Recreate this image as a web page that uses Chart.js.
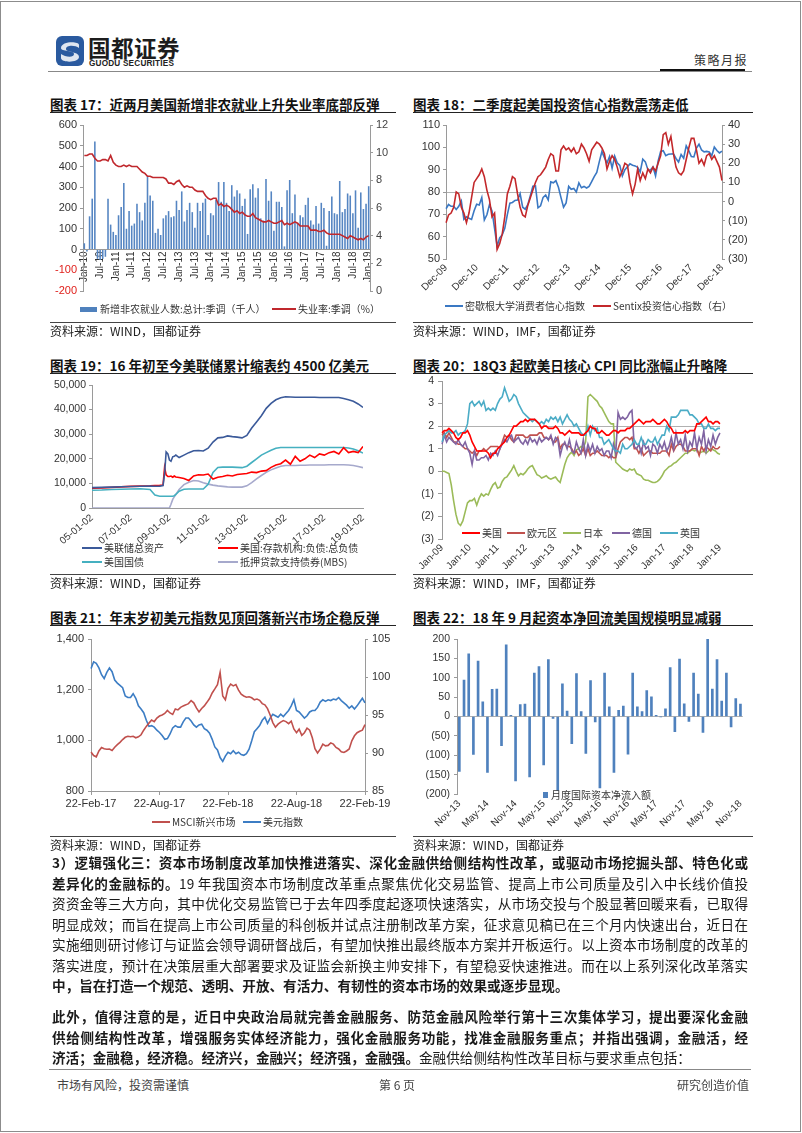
<!DOCTYPE html>
<html lang="zh-CN">
<head>
<meta charset="utf-8">
<title>策略月报 第6页</title>
<script src="https://cdn.jsdelivr.net/npm/chart.js@4.4.1/dist/chart.umd.min.js"></script>
<style>
  html, body { margin: 0; padding: 0; background: #fff; }
  #page { position: relative; width: 802px; height: 1133px; overflow: hidden;
          font-family: "Noto Sans CJK SC", "Noto Sans", sans-serif; color: #222; }
  .abs { position: absolute; white-space: nowrap; }
  .frame { position: absolute; left: 0; top: 1px; width: 801px; height: 1131px; box-sizing: border-box; border: 1px solid #8c8c8c; }
  .hline { position: absolute; height: 0; }
  .title { font-size: 13.5px; font-weight: 700; line-height: 16px; color: #111; }
  .src { font-size: 12px; line-height: 14px; color: #222; }
  .lg { font-size: 10px; line-height: 12px; color: #333; display: flex; align-items: center; }
  .mk { display: inline-block; width: 18px; height: 2px; margin-right: 2px; }
  .bx { display: inline-block; width: 17px; height: 5px; margin-right: 3px; }
  canvas { position: absolute; }
  .para { position: absolute; left: 52px; width: 696px; font-size: 13.6px; line-height: 20.5px; color: #1a1a1a; }
  .para div { text-align: justify; text-align-last: justify; height: 20.5px; overflow: hidden; }
  .para div.last { text-align-last: left; }
  .foot { font-size: 12px; line-height: 14px; color: #444; }
</style>
</head>
<body>
<div id="page">
  <div class="frame"></div>

  <!-- header -->
  <svg class="abs" style="left:56px;top:36px" width="28" height="30" viewBox="0 0 28 30">
    <rect x="0" y="0" width="28" height="30" rx="6" fill="#2a5a9f"/>
    <path d="M5 12 C5 5, 23 5, 23 9 L23 12 C19 9, 10 9, 10 13 C10 17, 23 15, 23 21 C23 27, 5 27, 5 22 L5 18 C9 21, 18 22, 18 18 C18 14, 5 16, 5 12 Z" fill="#dfe6f0"/>
  </svg>
  <div class="abs" style="left:88px;top:35px;font-size:22.5px;line-height:24px;font-weight:700;color:#1d1d1d;letter-spacing:0.5px">国都证券</div>
  <div class="abs" style="left:89px;top:59px;font-family:'Liberation Sans',Arial,sans-serif;font-size:8.2px;line-height:10px;font-weight:700;color:#222;letter-spacing:0.2px">GUODU SECURITIES</div>
  <div class="abs" style="left:694px;top:53px;font-size:12px;line-height:14px;color:#333;letter-spacing:1.5px">策略月报</div>
  <div class="hline" style="left:48px;top:71px;width:704px;border-top:1px solid #888"></div>
  <div class="abs" style="left:660px;top:69px;width:85px;height:2px;background:#111"></div>

  <!-- row 1 -->
  <div class="abs title" style="left:50px;top:96px">图表 17：近两月美国新增非农就业上升失业率底部反弹</div>
  <div class="abs title" style="left:413px;top:96px">图表 18：二季度起美国投资信心指数震荡走低</div>
  <div class="hline" style="left:50px;top:112px;width:346px;border-top:1.5px solid #222"></div>
  <div class="hline" style="left:413px;top:112px;width:340px;border-top:1.5px solid #222"></div>

  <canvas id="c17" width="346" height="190" style="left:50px;top:113px"></canvas>
  <canvas id="c18" width="340" height="189" style="left:413px;top:113px"></canvas>

  <div class="abs lg" style="left:80px;top:303px"><span class="bx" style="background:#4f81bd"></span>新增非农就业人数:总计:季调（千人）</div>
  <div class="abs lg" style="left:272px;top:303px"><span class="mk" style="width:24px;background:#c0282d"></span>失业率:季调（%）</div>
  <div class="abs lg" style="left:445px;top:300px"><span class="mk" style="background:#3a78c3"></span>密歇根大学消费者信心指数</div>
  <div class="abs lg" style="left:593px;top:300px"><span class="mk" style="background:#c3282b"></span>Sentix投资信心指数（右）</div>

  <div class="hline" style="left:50px;top:322px;width:346px;border-top:1px solid #444"></div>
  <div class="hline" style="left:413px;top:322px;width:340px;border-top:1px solid #444"></div>
  <div class="abs src" style="left:50px;top:324px">资料来源：WIND，国都证券</div>
  <div class="abs src" style="left:413px;top:324px">资料来源：WIND，IMF，国都证券</div>

  <!-- row 2 -->
  <div class="abs title" style="left:50px;top:357px">图表 19：16 年初至今美联储累计缩表约 4500 亿美元</div>
  <div class="abs title" style="left:413px;top:357px">图表 20：18Q3 起欧美日核心 CPI 同比涨幅止升略降</div>
  <div class="hline" style="left:50px;top:373px;width:346px;border-top:1.5px solid #222"></div>
  <div class="hline" style="left:413px;top:373px;width:340px;border-top:1.5px solid #222"></div>

  <canvas id="c19" width="346" height="179" style="left:50px;top:373px"></canvas>
  <canvas id="c20" width="340" height="204" style="left:413px;top:369px"></canvas>

  <div class="abs lg" style="left:82px;top:542px"><span class="mk" style="width:20px;background:#3b5a9a"></span>美联储总资产</div>
  <div class="abs lg" style="left:218px;top:542px"><span class="mk" style="width:20px;background:#ff0000"></span>美国:存款机构:负债:总负债</div>
  <div class="abs lg" style="left:82px;top:556px"><span class="mk" style="width:20px;background:#45b0c0"></span>美国国债</div>
  <div class="abs lg" style="left:218px;top:556px"><span class="mk" style="width:20px;background:#a6a9cc"></span>抵押贷款支持债券(MBS)</div>

  <div class="abs lg" style="left:462px;top:527px"><span class="mk" style="background:#ff0000"></span>美国</div>
  <div class="abs lg" style="left:507px;top:527px"><span class="mk" style="background:#c0504d"></span>欧元区</div>
  <div class="abs lg" style="left:563px;top:527px"><span class="mk" style="background:#9bbb59"></span>日本</div>
  <div class="abs lg" style="left:612px;top:527px"><span class="mk" style="background:#8064a2"></span>德国</div>
  <div class="abs lg" style="left:660px;top:527px"><span class="mk" style="background:#4bacc6"></span>英国</div>

  <div class="hline" style="left:50px;top:574px;width:346px;border-top:1px solid #444"></div>
  <div class="hline" style="left:413px;top:574px;width:340px;border-top:1px solid #444"></div>
  <div class="abs src" style="left:50px;top:576px">资料来源：WIND，国都证券</div>
  <div class="abs src" style="left:413px;top:576px">资料来源：WIND，IMF，国都证券</div>

  <!-- row 3 -->
  <div class="abs title" style="left:50px;top:609px">图表 21：年末岁初美元指数见顶回落新兴市场企稳反弹</div>
  <div class="abs title" style="left:413px;top:609px">图表 22：18 年 9 月起资本净回流美国规模明显减弱</div>
  <div class="hline" style="left:50px;top:625px;width:346px;border-top:1.5px solid #222"></div>
  <div class="hline" style="left:413px;top:625px;width:340px;border-top:1.5px solid #222"></div>

  <canvas id="c21" width="346" height="190" style="left:50px;top:627px"></canvas>
  <canvas id="c22" width="340" height="205" style="left:413px;top:627px"></canvas>

  <div class="abs lg" style="left:152px;top:816px"><span class="mk" style="background:#c0504d"></span>MSCI新兴市场</div>
  <div class="abs lg" style="left:243px;top:816px"><span class="mk" style="background:#3c7dc4"></span>美元指数</div>
  <div class="abs lg" style="left:543px;top:789px"><span class="bx" style="width:5px;height:6px;background:#4f81bd"></span>月度国际资本净流入额</div>

  <div class="hline" style="left:50px;top:836px;width:346px;border-top:1px solid #444"></div>
  <div class="hline" style="left:413px;top:836px;width:340px;border-top:1px solid #444"></div>
  <div class="abs src" style="left:50px;top:838px">资料来源：WIND，国都证券</div>
  <div class="abs src" style="left:413px;top:838px">资料来源：WIND，国都证券</div>

  <!-- text -->
  <div class="para" style="top:852px">
    <div><b>3）逻辑强化三：资本市场制度改革加快推进落实、深化金融供给侧结构性改革，或驱动市场挖掘头部、特色化或</b></div>
    <div><b>差异化的金融标的。</b>19 年我国资本市场制度改革重点聚焦优化交易监管、提高上市公司质量及引入中长线价值投</div>
    <div>资资金等三大方向，其中优化交易监管已于去年四季度起逐项快速落实，从市场交投与个股显著回暖来看，已取得</div>
    <div>明显成效；而旨在提高上市公司质量的科创板并试点注册制改革方案，征求意见稿已在三个月内快速出台，近日在</div>
    <div>实施细则研讨修订与证监会领导调研督战后，有望加快推出最终版本方案并开板运行。以上资本市场制度的改革的</div>
    <div>落实进度，预计在决策层重大部署要求及证监会新换主帅安排下，有望稳妥快速推进。而在以上系列深化改革落实</div>
    <div class="last"><b>中，旨在打造一个规范、透明、开放、有活力、有韧性的资本市场的效果或逐步显现。</b></div>
  </div>
  <div class="para" style="top:1006px">
    <div><b>此外，值得注意的是，近日中央政治局就完善金融服务、防范金融风险举行第十三次集体学习，提出要深化金融</b></div>
    <div><b>供给侧结构性改革，增强服务实体经济能力，强化金融服务功能，找准金融服务重点；并指出强调，金融活，经</b></div>
    <div class="last"><b>济活；金融稳，经济稳。经济兴，金融兴；经济强，金融强。</b>金融供给侧结构性改革目标与要求重点包括：</div>
  </div>

  <!-- footer -->
  <div class="hline" style="left:49px;top:1069px;width:702px;border-top:1px solid #888"></div>
  <div class="abs foot" style="left:57px;top:1078px">市场有风险，投资需谨慎</div>
  <div class="abs foot" style="left:379px;top:1078px">第 6 页</div>
  <div class="abs foot" style="left:677px;top:1078px">研究创造价值</div>
</div>

<script>
// ---- chart 17: non-farm payrolls (k) and unemployment rate (%), Jan-10 .. Jan-19
const payroll17 = [
  30, -10, 160, 245, 520, -45, -50, -45, -35, 245, 120, 85,
  70, 165, 205, 320, 100, 185, 115, 125, 220, 180, 140, 225,
  355, 260, 235, 80, 100, 70, 150, 165, 185, 155, 160, 235,
  190, 280, 135, 190, 225, 180, 105, 225, 185, 225, 245, 70,
  175, 165, 240, 325, 230, 325, 225, 185, 310, 255, 285, 270,
  210, 245, 75, 290, 315, 250, 295, 150, 140, 340, 235, 280,
  90, 230, 230, 205, 15, 285, 335, 175, 265, 125, 165, 155,
  215, 250, 140, 120, 210, 125, 225, 200, 18, 185, 255, 175,
  170, 330, 180, 195, 270, 260, 175, 285, 105, 275, 195, 220,
  305];
const unemp17 = [
  9.8, 9.8, 9.9, 9.9, 9.6, 9.4, 9.4, 9.5, 9.5, 9.4, 9.8, 9.3,
  9.1, 9.0, 9.0, 9.1, 9.0, 9.1, 9.0, 9.0, 9.0, 8.8, 8.6, 8.5,
  8.3, 8.3, 8.2, 8.2, 8.2, 8.2, 8.2, 8.1, 7.8, 7.8, 7.7, 7.9,
  8.0, 7.7, 7.5, 7.6, 7.5, 7.5, 7.3, 7.2, 7.2, 7.2, 6.9, 6.7,
  6.6, 6.7, 6.7, 6.2, 6.3, 6.1, 6.2, 6.1, 5.9, 5.7, 5.8, 5.6,
  5.7, 5.5, 5.4, 5.4, 5.6, 5.3, 5.2, 5.1, 5.0, 5.0, 5.1, 5.0,
  4.9, 4.9, 5.0, 5.1, 4.8, 4.9, 4.8, 4.9, 5.0, 4.9, 4.7, 4.7,
  4.7, 4.7, 4.4, 4.4, 4.4, 4.3, 4.3, 4.4, 4.2, 4.1, 4.1, 4.1,
  4.1, 4.1, 4.0, 3.9, 3.8, 4.0, 3.9, 3.8, 3.7, 3.8, 3.7, 3.9,
  4.0];

// ---- chart 18: Michigan sentiment (left) and Sentix (right), Dec-09 .. Dec-18
const michigan18 = [
  72.5,
  74.4, 73.6, 73.6, 72.2, 73.6, 76.0, 67.8, 68.9, 68.2, 67.7, 71.6, 74.5,
  74.2, 77.5, 67.5, 69.8, 74.3, 71.5, 63.7, 55.7, 59.5, 60.8, 63.7, 69.9,
  75.0, 75.3, 76.2, 76.4, 79.3, 73.2, 72.3, 74.3, 78.3, 82.6, 82.7, 72.9,
  73.8, 77.6, 78.6, 76.4, 84.5, 84.1, 85.1, 82.1, 77.5, 73.2, 75.1, 82.5,
  81.2, 81.6, 80.0, 84.1, 81.9, 82.5, 81.8, 82.5, 84.6, 86.9, 88.8, 93.6,
  98.1, 95.4, 93.0, 95.9, 90.7, 96.1, 93.1, 91.9, 87.2, 90.0, 91.3, 92.6,
  92.0, 91.7, 91.0, 89.0, 94.7, 93.5, 90.0, 89.8, 91.2, 87.2, 93.8, 98.2,
  98.5, 96.3, 96.9, 97.0, 97.1, 95.0, 93.4, 96.8, 95.1, 100.7, 98.5, 95.9,
  95.7, 99.7, 101.4, 98.8, 98.0, 98.2, 97.9, 96.2, 100.1, 98.6, 97.5, 98.3];
const sentix18 = [
  -11,
  -7, -6, -3, 5, 4, -3, -6, -11, -6, 2, 10, 12,
  14, 17, 13, 6, 1, -8, -6, -25, -22, -17, -8, 4,
  8, 13, 12, 4, -3, -7, -8, -2, 2, 6, 10, 13,
  14, 16, 18, 22, 25, 24, 16, 16, 27, 29, 27, 28,
  26, 28, 25, 26, 30, 28, 25, 21, 27, 29, 31, 30,
  28, 25, 17, 21, 24, 22, 18, 13, 16, 20, 19, 10,
  4, 9, 17, 11, 15, 12, 17, 15, 18, 16, 20, 24,
  35, 36, 30, 34, 25, 18, 15, 14, 16, 22, 28, 33,
  33, 27, 20, 22, 19, 24, 25, 22, 24, 21, 18, 11];

// ---- chart 19: Fed balance sheet items (100 mn USD), sampled at decimal years
const dates19 = [2005.0, 2005.5, 2006.0, 2006.5, 2007.0, 2007.5, 2008.0, 2008.25, 2008.5, 2008.67,
  2008.75, 2008.83, 2008.92, 2009.0, 2009.08, 2009.17, 2009.25, 2009.33, 2009.5, 2009.75,
  2010.0, 2010.25, 2010.5, 2010.75, 2011.0, 2011.25, 2011.5, 2011.75, 2012.0, 2012.25,
  2012.5, 2012.75, 2013.0, 2013.25, 2013.5, 2013.75, 2014.0, 2014.25, 2014.5, 2014.75,
  2015.0, 2015.25, 2015.5, 2015.75, 2016.0, 2016.25, 2016.5, 2016.75, 2017.0, 2017.25,
  2017.5, 2017.75, 2018.0, 2018.25, 2018.5, 2018.75, 2019.0];
const fed19 = [8300, 8400, 8500, 8650, 8750, 8850, 8950, 8850, 8900, 9100,
  14000, 22800, 22000, 19500, 19000, 20800, 21000, 21500, 20500, 21500,
  22500, 23300, 23400, 23200, 24300, 26800, 28500, 28700, 29300, 29000,
  28800, 28500, 29500, 32500, 35000, 37500, 40500, 42500, 44000, 44800,
  45200, 45100, 45000, 45000, 45000, 45000, 45000, 44900, 44900, 44900,
  44900, 44900, 44500, 44000, 43400, 42300, 40900];
const dep19 = [8000, 8200, 8400, 8600, 8800, 8900, 9000, 9100, 9200, 9300,
  16500, 13500, 12800, 12800, 13000, 12500, 13000, 12600, 12400, 12000,
  11200, 13000, 13500, 13400, 13800, 11800, 12500, 12800, 13300, 13000,
  13600, 13800, 14000, 14600, 14400, 15000, 15200, 16500, 17500, 18000,
  19500, 17800, 21000, 19000, 20000, 21500, 20500, 22000, 21500, 22500,
  23000, 22000, 24500, 22500, 23000, 22500, 25000];
const ust19 = [7200, 7300, 7500, 7600, 7700, 7800, 7500, 5300, 4800, 4800,
  4800, 4800, 4800, 4800, 4800, 4800, 5000, 5500, 6800, 7600,
  7700, 7700, 7700, 7700, 9600, 14500, 16500, 16600, 16600, 16600,
  16500, 16400, 17000, 18500, 20000, 21500, 22500, 23500, 24300, 24600,
  24600, 24600, 24600, 24600, 24600, 24600, 24600, 24600, 24600, 24600,
  24600, 24600, 24600, 24400, 24000, 23300, 22300];
const mbs19 = [0, 0, 0, 0, 0, 0, 0, 0, 0, 0,
  0, 0, 0, 0, 1500, 3500, 4500, 5500, 7500, 9500,
  10500, 11200, 11000, 10300, 9700, 9300, 9000, 8800, 8600, 8500,
  8500, 8500, 9000, 10300, 11800, 13200, 14500, 15500, 16300, 17000,
  17300, 17300, 17300, 17400, 17400, 17500, 17500, 17500, 17500, 17600,
  17600, 17600, 17600, 17500, 17300, 16900, 16400];
const years19 = [2005, 2007, 2009, 2011, 2013, 2015, 2017, 2019];

// ---- chart 20: core CPI yoy (%), Jan-09 .. Jan-19
const us20 = [
  1.7, 1.8, 1.8, 1.9, 1.8, 1.7, 1.5, 1.4, 1.5, 1.7, 1.7, 1.8,
  1.6, 1.3, 1.1, 0.9, 0.9, 0.9, 0.9, 0.9, 0.8, 0.6, 0.8, 0.8,
  1.0, 1.1, 1.2, 1.3, 1.5, 1.6, 1.8, 2.0, 2.0, 2.1, 2.2, 2.2,
  2.3, 2.2, 2.3, 2.3, 2.3, 2.2, 2.1, 1.9, 2.0, 2.0, 1.9, 1.9,
  1.9, 2.0, 1.9, 1.7, 1.7, 1.6, 1.7, 1.8, 1.7, 1.7, 1.7, 1.7,
  1.6, 1.6, 1.7, 1.8, 2.0, 1.9, 1.9, 1.7, 1.7, 1.8, 1.7, 1.6,
  1.6, 1.7, 1.8, 1.8, 1.7, 1.8, 1.8, 1.8, 1.9, 1.9, 2.0, 2.1,
  2.2, 2.3, 2.2, 2.1, 2.2, 2.2, 2.2, 2.3, 2.2, 2.1, 2.1, 2.2,
  2.3, 2.2, 2.0, 1.9, 1.7, 1.7, 1.7, 1.7, 1.7, 1.8, 1.7, 1.8,
  1.8, 1.8, 2.1, 2.1, 2.2, 2.3, 2.4, 2.2, 2.2, 2.1, 2.2, 2.2,
  2.1];
const euro20 = [
  1.6, 1.7, 1.5, 1.7, 1.5, 1.3, 1.3, 1.2, 1.2, 1.1, 1.0, 1.0,
  0.9, 0.8, 0.9, 0.7, 0.9, 0.9, 1.0, 0.9, 1.0, 1.1, 1.1, 1.1,
  1.1, 1.0, 1.3, 1.6, 1.5, 1.6, 1.4, 1.3, 1.6, 1.6, 1.6, 1.6,
  1.5, 1.5, 1.6, 1.6, 1.6, 1.6, 1.7, 1.7, 1.5, 1.5, 1.4, 1.5,
  1.3, 1.3, 1.5, 1.0, 1.2, 1.2, 1.1, 1.1, 1.0, 0.8, 0.9, 0.7,
  0.8, 1.0, 0.7, 1.0, 0.7, 0.8, 0.8, 0.9, 0.8, 0.7, 0.7, 0.7,
  0.6, 0.7, 0.6, 0.6, 1.0, 1.3, 1.4, 1.5, 1.5, 1.4, 1.5, 1.0,
  1.0, 0.8, 1.0, 0.7, 0.8, 0.9, 0.9, 0.8, 0.8, 0.8, 0.8, 0.9,
  0.9, 0.9, 0.7, 1.2, 0.9, 1.1, 1.2, 1.2, 1.1, 0.9, 0.9, 0.9,
  1.0, 1.0, 1.0, 0.7, 1.1, 0.9, 1.1, 1.0, 0.9, 1.1, 1.0, 1.0,
  1.1];
const japan20 = [
  0.0, 0.0, -0.05, -0.1, -0.6, -1.3, -1.9, -2.3, -2.4, -2.2, -1.8, -1.4,
  -1.3, -1.3, -1.2, -1.5, -1.2, -1.0, -1.1, -1.0, -1.05, -0.8, -0.6, -0.5,
  -0.75, -0.7, -0.45, -0.3, -0.25, -0.1, 0.05, 0.25, 0.0, -0.2, -0.1, -0.15,
  -0.05, 0.1, 0.2, 0.25, 0.05, -0.15, -0.2, -0.3, -0.25, -0.2, -0.3, -0.35,
  -0.3, -0.25, -0.4, -0.5, -0.1, 0.3, 0.6, 0.75, 0.85, 0.7, 0.95, 1.0,
  1.1, 1.05, 1.3, 3.3, 3.4, 3.3, 3.2, 3.1, 2.9, 2.8, 2.6, 2.4,
  2.2, 2.1, 2.1, 0.4, 0.3, 0.2, 0.1, 0.05, 0.0, 0.1, 0.05, 0.1,
  -0.1, -0.15, -0.2, -0.35, -0.4, -0.4, -0.45, -0.5, -0.5, -0.45, -0.35, -0.2,
  0.0, 0.1, 0.2, 0.25, 0.35, 0.4, 0.5, 0.6, 0.7, 0.8, 0.8, 0.9,
  0.95, 0.9, 0.95, 0.8, 0.85, 0.9, 0.8, 0.9, 1.0, 0.95, 0.9, 0.8,
  0.75];
const germany20 = [
  1.2, 1.6, 1.3, 1.5, 1.4, 1.3, 1.2, 1.4, 1.2, 1.1, 1.3, 1.0,
  0.8, 0.3, 0.9, 0.5, 0.5, 0.6, 0.6, 0.7, 0.5, 0.8, 0.7, 0.9,
  0.7, 1.0, 1.2, 1.4, 1.3, 1.5, 1.6, 1.3, 1.4, 1.5, 1.3, 1.2,
  1.4, 1.2, 1.5, 1.3, 1.4, 1.2, 1.5, 1.3, 1.4, 1.5, 1.4, 1.6,
  1.2, 1.5, 1.4, 0.7, 1.1, 1.3, 1.0, 1.4, 0.9, 0.8, 1.3, 1.0,
  0.8, 1.4, 0.7, 1.2, 0.9, 1.2, 0.8, 1.1, 0.9, 1.0, 0.7, 0.9,
  0.9, 0.6, 1.2, 0.8, 2.6, 2.3, 2.4, 2.3, 2.4, 2.6, 2.7, 1.1,
  1.0, 1.2, 0.8, 1.3, 1.0, 1.1, 0.7, 1.2, 1.1, 0.8, 1.2, 1.0,
  1.3, 0.9, 1.1, 1.5, 1.0, 1.7, 1.2, 1.4, 1.0, 1.6, 0.9, 1.3,
  1.1, 1.7, 1.0, 1.5, 1.2, 1.8, 0.9, 1.4, 1.1, 1.6, 1.2, 1.5,
  1.7];
const uk20 = [
  1.3, 1.6, 1.7, 1.8, 1.7, 1.7, 1.8, 1.6, 1.7, 1.7, 1.8, 2.1,
  3.0, 3.1, 2.9, 3.0, 3.1, 2.9, 3.1, 2.7, 2.8, 2.7, 2.8, 2.7,
  3.0, 3.2, 3.3, 3.7, 3.4, 3.1, 3.2, 3.4, 3.3, 3.0, 2.8, 2.6,
  2.5, 2.4, 2.3, 2.2, 2.3, 2.2, 2.1, 2.2, 2.1, 2.3, 2.2, 2.4,
  2.3, 2.4, 2.2, 2.4, 2.1, 2.3, 2.5, 2.3, 2.2, 2.0, 2.1, 1.9,
  1.7, 1.6, 1.6, 2.0, 1.6, 2.0, 1.8, 1.9, 1.5, 1.5, 1.2, 1.3,
  1.4, 1.2, 1.0, 0.9, 0.9, 0.8, 1.2, 1.0, 1.0, 1.1, 1.2, 1.4,
  1.2, 1.2, 1.5, 1.2, 1.2, 1.4, 1.3, 1.3, 1.5, 1.2, 1.4, 1.6,
  1.6, 2.0, 1.8, 2.4, 2.4, 2.4, 2.5, 2.7, 2.7, 2.7, 2.7, 2.5,
  2.5, 2.4, 2.3, 2.1, 2.1, 1.9, 1.9, 2.1, 1.9, 1.9, 1.8, 1.9,
  1.9];

// ---- chart 21: MSCI EM (left) and dollar index (right), weekly from 22-Feb-17
const msci21 = [
  954, 940, 935, 958, 972, 967, 965, 966, 960, 973,
  983, 992, 1003, 1012, 1016, 1014, 1016, 1010, 1014, 1022,
  1040, 1055, 1068, 1080, 1074, 1088, 1096, 1100, 1106, 1118,
  1108, 1102, 1124, 1120, 1130, 1136, 1140, 1145, 1157, 1148,
  1128, 1112, 1126, 1136, 1150, 1165, 1187, 1203, 1220, 1268,
  1175, 1160, 1205, 1222, 1215, 1220, 1198, 1182, 1175, 1170,
  1172, 1168, 1160, 1163, 1158, 1145, 1140, 1125, 1100, 1070,
  1052, 1064, 1072, 1078, 1074, 1066, 1076, 1045, 1030, 1044,
  1020, 1030, 1048, 1040, 1010, 967, 950, 965, 985, 978,
  980, 990, 985, 972, 966, 955, 952, 958, 966, 998,
  1018, 1030, 1036, 1040, 1062];
const dxy21 = [
  101.1, 102.0, 101.8, 101.2, 100.3, 99.8, 100.6, 101.2, 100.7, 99.6,
  99.2, 98.9, 98.6, 97.5, 97.3, 97.3, 97.8, 97.2, 96.2, 95.8,
  95.3, 94.3, 93.5, 93.6, 93.4, 93.0, 92.7, 92.3, 91.8, 91.9,
  92.5, 93.3, 93.6, 93.4, 93.4, 94.1, 94.6, 94.6, 94.2, 93.7,
  93.4, 93.7, 93.8, 93.2, 93.0, 92.6, 91.8, 90.8, 90.4, 89.4,
  88.9, 89.6, 90.1, 89.9, 90.3, 89.9, 90.1, 89.8, 89.7, 89.9,
  90.5, 91.6, 92.8, 93.2, 93.6, 94.3, 94.7, 93.9, 94.6, 95.1,
  94.9, 94.7, 95.1, 94.8, 95.2, 95.6, 96.2, 97.0, 95.6, 95.4,
  95.0, 94.6, 94.9, 95.4, 95.6, 95.6, 96.0, 96.7, 97.0, 96.8,
  97.0, 96.9, 97.1, 97.0, 97.3, 96.9, 96.6, 96.3, 95.9, 96.2,
  95.8, 96.2, 96.7, 97.2, 96.6];
const ticks21 = ['22-Feb-17', '22-Aug-17', '22-Feb-18', '22-Aug-18', '22-Feb-19'];

// ---- chart 22: monthly net international capital inflow, Nov-13 .. Nov-18
const flows22 = [
  -142, 94, 162, -98, 143, 38, -144, 70, 71, -75,
  185, 3, -166, 31, 32, -156, 112, 129, -125, 147,
  -5, -191, 84, 14, -70, 111, 13, -95, 93, -14,
  -184, 112, 25, -144, 16, 27, -97, 112, 25, 13,
  67, 51, 3, -1, 20, 126, -39, 148, 33, -13,
  112, 58, -41, 200, 71, 147, 40, 112, -27, 46,
  32];

// ---- helpers
const MONTHS = ['Jan', 'Feb', 'Mar', 'Apr', 'May', 'Jun', 'Jul', 'Aug', 'Sep', 'Oct', 'Nov', 'Dec'];
function monthLabels(year, month, count) {
  const out = [];
  for (let i = 0; i < count; i++) {
    const m = month + i;
    out.push(MONTHS[m % 12] + '-' + String(year + Math.floor(m / 12)).slice(2));
  }
  return out;
}
function weekLabels(start, count) {
  const out = [];
  const t0 = Date.parse(start + 'T00:00:00Z');
  for (let i = 0; i < count; i++) out.push(new Date(t0 + i * 7 * 864e5).toISOString().slice(0, 10));
  return out;
}
const months17 = monthLabels(2010, 0, payroll17.length);
const months18 = monthLabels(2009, 11, michigan18.length);
const months20 = monthLabels(2009, 0, us20.length);
const months22 = monthLabels(2013, 10, flows22.length);
const weeks21 = weekLabels('2017-02-22', msci21.length);

Chart.defaults.font.family = '"Liberation Sans", Arial, sans-serif';
Chart.defaults.font.size = 11;
Chart.defaults.color = '#333';
const AXIS = '#9a9a9a';
const CLEAR = 'rgba(0,0,0,0)';
const NOGRID = { display: false, drawTicks: false };

function fixW(w) { return s => { s.width = w; }; }
function fixH(h) { return s => { s.height = h; }; }
function every(n, labels) { return (v, i) => (i % n === 0 ? labels[i] : ''); }
function paren(v) { return v < 0 ? '(' + Math.abs(v) + ')' : String(v); }
function comma(v) { return v.toLocaleString('en-US'); }
function opts(extra) {
  return Object.assign({
    responsive: false, animation: false, devicePixelRatio: 1, events: [],
    plugins: { legend: { display: false }, tooltip: { enabled: false } }
  }, extra);
}
function pts(xs, ys) { return ys.map((y, i) => ({ x: xs[i], y })); }
function line(data, color, axis, order) {
  return { type: 'line', data, yAxisID: axis, borderColor: color, borderWidth: 1.6,
           pointRadius: 0, tension: 0, fill: false, order: order || 0 };
}
function valueAxis(pos, min, max, step, width, size, extra) {
  return Object.assign({
    position: pos, min, max,
    ticks: { stepSize: step, padding: 3, font: { size: size } },
    grid: { drawOnChartArea: false, tickLength: 3, color: AXIS },
    border: { display: true, color: AXIS },
    afterFit: fixW(width)
  }, extra || {});
}

// chart 17
new Chart(document.getElementById('c17'), {
  type: 'bar',
  data: {
    labels: months17,
    datasets: [
      line(unemp17, '#c0282d', 'yR', 0),
      { type: 'bar', data: payroll17, yAxisID: 'yL', backgroundColor: '#5585c2',
        barPercentage: 0.6, categoryPercentage: 1, order: 1 }
    ]
  },
  options: opts({
    layout: { padding: { top: 12, bottom: 12 } },
    scales: {
      x: { position: { yL: 0 }, offset: true, grid: NOGRID,
           border: { display: true, color: AXIS },
           ticks: { autoSkip: false, minRotation: 90, maxRotation: 90, padding: 2,
                    font: { size: 10 }, callback: every(6, months17) } },
      yL: valueAxis('left', -200, 600, 100, 33, 11, {
        ticks: { stepSize: 100, padding: 3, font: { size: 11 },
                 color: c => (c.tick.value < 0 ? '#e0201c' : '#333') } }),
      yR: valueAxis('right', 0, 12, 2, 26, 11, {
        ticks: { stepSize: 2, padding: 3, font: { size: 11 }, color: '#444' } })
    }
  })
});

// chart 18
new Chart(document.getElementById('c18'), {
  type: 'line',
  data: {
    labels: months18,
    datasets: [
      line(sentix18, '#c3282b', 'yR', 0),
      line(michigan18, '#3a78c3', 'yL', 1)
    ]
  },
  options: opts({
    layout: { padding: { top: 12 } },
    scales: {
      x: { grid: NOGRID, border: { display: false }, afterFit: fixH(43),
           ticks: { autoSkip: false, minRotation: 45, maxRotation: 45, padding: 3,
                    font: { size: 10 }, callback: every(12, months18) } },
      yL: valueAxis('left', 50, 110, 10, 33, 11, {
        grid: { drawOnChartArea: true, tickLength: 3, tickColor: AXIS,
                color: c => (c.tick && c.tick.value === 80 ? '#b0b0b0' : CLEAR) } }),
      yR: valueAxis('right', -30, 40, 10, 31, 11, {
        ticks: { stepSize: 10, padding: 3, font: { size: 11 }, callback: paren } })
    }
  })
});

// chart 19
new Chart(document.getElementById('c19'), {
  type: 'line',
  data: {
    datasets: [
      line(pts(dates19, fed19), '#3b5a9a', 'y', 0),
      line(pts(dates19, dep19), '#ff0000', 'y', 1),
      line(pts(dates19, ust19), '#45b0c0', 'y', 2),
      line(pts(dates19, mbs19), '#a6a9cc', 'y', 3)
    ]
  },
  options: opts({
    layout: { padding: { top: 12, right: 33 } },
    scales: {
      x: { type: 'linear', min: 2005, max: 2019, grid: NOGRID,
           border: { display: true, color: AXIS }, afterFit: fixH(44),
           afterBuildTicks: s => { s.ticks = years19.map(v => ({ value: v })); },
           ticks: { autoSkip: false, minRotation: 40, maxRotation: 40, padding: 4,
                    font: { size: 10 }, callback: v => String(v).slice(2) + '-01-02' } },
      y: valueAxis('left', 0, 50000, 10000, 42, 10.5, {
        ticks: { stepSize: 10000, padding: 3, font: { size: 10.5 }, callback: comma } })
    }
  })
});

// chart 20
new Chart(document.getElementById('c20'), {
  type: 'line',
  data: {
    labels: months20,
    datasets: [
      line(us20, '#ff0000', 'y', 0),
      line(uk20, '#4bacc6', 'y', 1),
      line(germany20, '#8064a2', 'y', 2),
      line(euro20, '#c0504d', 'y', 3),
      line(japan20, '#9bbb59', 'y', 4)
    ]
  },
  options: opts({
    layout: { padding: { top: 12, right: 33 } },
    scales: {
      x: { grid: NOGRID, border: { display: false }, afterFit: fixH(34),
           ticks: { autoSkip: false, minRotation: 45, maxRotation: 45, padding: 3,
                    font: { size: 10 }, callback: every(12, months20) } },
      y: valueAxis('left', -3, 4, 1, 29, 10.5, {
        ticks: { stepSize: 1, padding: 4, font: { size: 10.5 }, callback: paren },
        grid: { drawOnChartArea: true, tickLength: 4, tickColor: AXIS,
                color: c => (c.tick && c.tick.value === 2 ? '#b0b0b0' : CLEAR) } })
    }
  })
});

// chart 21
new Chart(document.getElementById('c21'), {
  type: 'line',
  data: {
    labels: weeks21,
    datasets: [
      line(msci21, '#c0504d', 'yL', 0),
      line(dxy21, '#3c7dc4', 'yR', 1)
    ]
  },
  options: opts({
    layout: { padding: { top: 12 } },
    scales: {
      x: { afterFit: fixH(26), border: { display: true, color: AXIS },
           grid: { drawOnChartArea: false, tickLength: 4,
                   tickColor: c => (c.index % 26 === 0 ? AXIS : CLEAR) },
           ticks: { autoSkip: false, maxRotation: 0, minRotation: 0, padding: 2,
                    font: { size: 11 }, callback: (v, i) => (i % 26 === 0 ? ticks21[i / 26] : '') } },
      yL: valueAxis('left', 800, 1400, 200, 41, 11, {
        ticks: { stepSize: 200, padding: 4, font: { size: 11 }, callback: comma } }),
      yR: valueAxis('right', 85, 105, 5, 31, 11, {
        ticks: { stepSize: 5, padding: 4, font: { size: 11 } } })
    }
  })
});

// chart 22
new Chart(document.getElementById('c22'), {
  type: 'bar',
  data: {
    labels: months22,
    datasets: [{ data: flows22, backgroundColor: '#4f81bd', barThickness: 2 }]
  },
  options: opts({
    layout: { padding: { top: 12, right: 8 } },
    scales: {
      x: { grid: NOGRID, border: { display: false }, afterFit: fixH(38),
           ticks: { autoSkip: false, minRotation: 45, maxRotation: 45, padding: 4,
                    font: { size: 10 }, callback: every(6, months22) } },
      y: valueAxis('left', -200, 200, 50, 44, 10.5, {
        ticks: { stepSize: 50, padding: 4, font: { size: 10.5 }, callback: paren },
        grid: { drawOnChartArea: true, tickLength: 3, tickColor: AXIS,
                color: c => (c.tick && c.tick.value === 0 ? '#b0b0b0' : CLEAR) } })
    }
  })
});
</script>
</body>
</html>
